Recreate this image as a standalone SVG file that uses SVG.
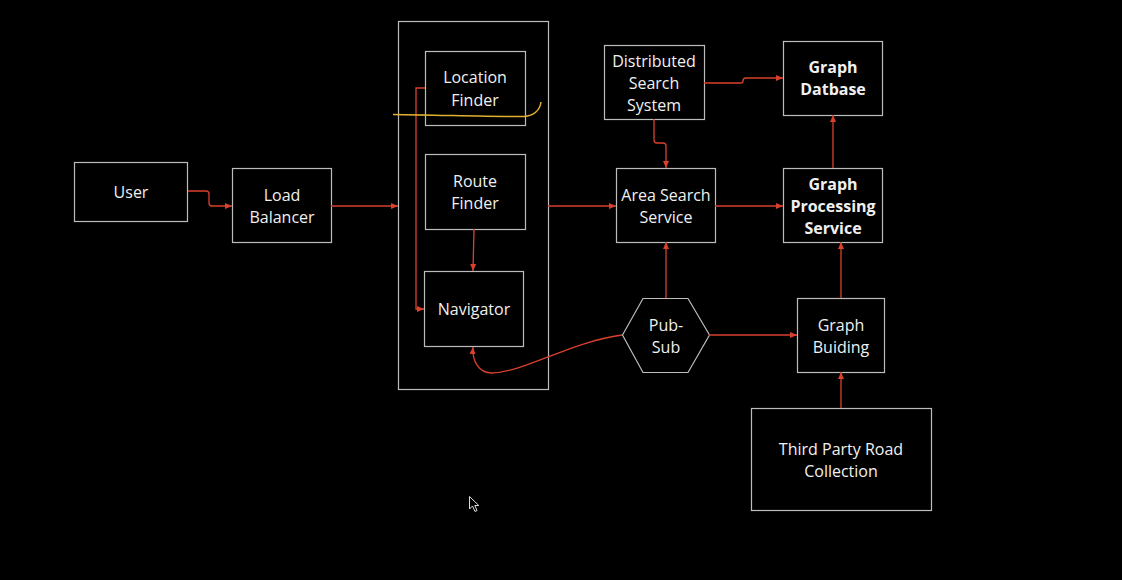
<svg xmlns="http://www.w3.org/2000/svg" width="1122" height="580" viewBox="0 0 1122 580">
<defs>
<style>
.box{fill:#000;stroke:#bdbdbd;stroke-width:1.2}
.t{font-family:"Open Sans","Noto Sans",sans-serif;font-size:16px;fill:#f0f0f0;text-anchor:middle}
.b{font-weight:bold}
.c{fill:none;stroke:#d9412e;stroke-width:1.3}
</style>
<marker id="a" markerWidth="8" markerHeight="8" refX="7" refY="4" orient="auto" markerUnits="userSpaceOnUse">
<path d="M0,1 L7,4 L0,7 Z" fill="#d9412e"/>
</marker>
</defs>
<rect width="1122" height="580" fill="#000"/>
<g id="container"><rect class="box" x="398.5" y="21.5" width="150" height="368"/></g>
<g id="user"><rect class="box" x="74.5" y="162.5" width="113" height="59"/><text class="t" x="131" y="198">User</text></g>
<g id="lb"><rect class="box" x="232.5" y="168.5" width="99" height="74"/><text class="t" x="282" y="201">Load</text><text class="t" x="282" y="223">Balancer</text></g>
<g id="locfinder"><rect class="box" x="425.5" y="51.5" width="100" height="74"/><text class="t" x="475" y="83">Location</text><text class="t" x="475" y="106">Finder</text></g>
<g id="routefinder"><rect class="box" x="425.5" y="154.5" width="100" height="75"/><text class="t" x="475" y="187">Route</text><text class="t" x="475" y="209">Finder</text></g>
<g id="navigator"><rect class="box" x="424.5" y="271.5" width="99" height="75"/><text class="t" x="474" y="315">Navigator</text></g>
<g id="dss"><rect class="box" x="604.5" y="45.5" width="100" height="74"/><text class="t" x="654" y="67">Distributed</text><text class="t" x="654" y="89">Search</text><text class="t" x="654" y="111">System</text></g>
<g id="graphdb"><rect class="box" x="783.5" y="41.5" width="99" height="74"/><text class="t b" x="833" y="73">Graph</text><text class="t b" x="833" y="95">Datbase</text></g>
<g id="areasearch"><rect class="box" x="616.5" y="168.5" width="99" height="74"/><text class="t" x="666" y="201">Area Search</text><text class="t" x="666" y="223">Service</text></g>
<g id="graphproc"><rect class="box" x="783.5" y="168.5" width="99" height="74"/><text class="t b" x="833" y="190">Graph</text><text class="t b" x="833" y="212">Processing</text><text class="t b" x="833" y="234">Service</text></g>
<g id="pubsub"><polygon class="box" points="622.5,335 643,298.5 688,298.5 709.5,335 688,372.5 643,372.5"/><text class="t" x="666" y="331">Pub-</text><text class="t" x="666" y="353">Sub</text></g>
<g id="graphbuilding"><rect class="box" x="797.5" y="298.5" width="87" height="74"/><text class="t" x="841" y="331">Graph</text><text class="t" x="841" y="353">Buiding</text></g>
<g id="thirdparty"><rect class="box" x="751.5" y="408.5" width="180" height="102"/><text class="t" x="841" y="455">Third Party Road</text><text class="t" x="841" y="477">Collection</text></g>
<g id="connectors">
<path class="c" d="M188,191 H206 Q209,191 209,194 V203 Q209,206 212,206 H232" marker-end="url(#a)"/>
<path class="c" d="M331,206 H398" marker-end="url(#a)"/>
<path class="c" d="M425,88 H416 V309 H424" marker-end="url(#a)"/>
<path class="c" d="M474,229 L473,271" marker-end="url(#a)"/>
<path class="c" d="M548,206 H616" marker-end="url(#a)"/>
<path class="c" d="M654,119 V140 Q654,143 657,143 H663 Q666,143 666,146 V168" marker-end="url(#a)"/>
<path class="c" d="M704,83 H741 Q743,83 743,81 Q743,78 746,78 H783" marker-end="url(#a)"/>
<path class="c" d="M715,206 H783" marker-end="url(#a)"/>
<path class="c" d="M833,168 V115" marker-end="url(#a)"/>
<path class="c" d="M666,298 V242" marker-end="url(#a)"/>
<path class="c" d="M709,335 H797" marker-end="url(#a)"/>
<path class="c" d="M841,298 V242" marker-end="url(#a)"/>
<path class="c" d="M841,408 V372" marker-end="url(#a)"/>
<path class="c" d="M622,335 C570,342 525,372 492,373 C478,373 472,360 473,347" marker-end="url(#a)"/>
</g>
<path d="M393,114.5 C440,115 495,117 524,116.5 C534,116 540,110 541,102" fill="none" stroke="#e0b030" stroke-width="1.5"/>
<path d="M469.5,496.5 V509 L472.5,506 L475,511.5 L477,510.5 L474.8,505.5 L478.8,505.5 Z" fill="#000" stroke="#ddd" stroke-width="1"/>
</svg>
